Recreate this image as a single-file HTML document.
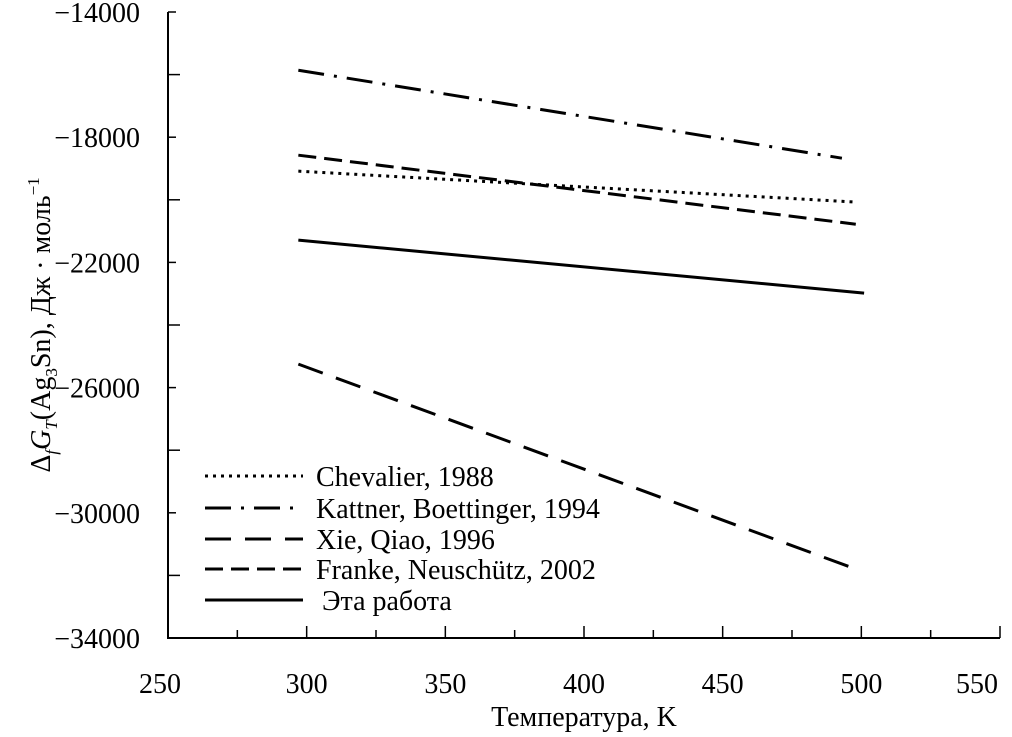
<!DOCTYPE html>
<html><head><meta charset="utf-8"><style>
body{margin:0;background:#fff}
svg text{font-family:"Liberation Serif","Times New Roman",serif;fill:#000}
</style></head><body>
<svg width="1012" height="732" font-family="Liberation Serif, serif">
<g id="axes"></g><g id="series"></g><g id="legend"></g>
<text x="584" y="726" font-size="28" text-anchor="middle" font-family="Liberation Serif, serif">Температура, K</text>
<text transform="translate(50,325) rotate(-90)" font-size="28" text-anchor="middle" font-family="Liberation Serif, serif">Δ<tspan font-size="17" dy="7" font-style="italic">f</tspan><tspan dy="-7" font-style="italic">G</tspan><tspan font-size="17" dy="7" font-style="italic">T</tspan><tspan dy="-7">(Ag</tspan><tspan font-size="17" dy="7">3</tspan><tspan dy="-7">Sn), Дж · моль</tspan><tspan font-size="17" dy="-11">−1</tspan></text>
</svg>
<script>
const xTicks=[250,300,350,400,450,500,550];
const yTicks=[-14000,-18000,-22000,-26000,-30000,-34000];
const seriesNames=["Chevalier, 1988","Kattner, Boettinger, 1994","Xie, Qiao, 1996","Franke, Neuschütz, 2002","Эта работа"];
const seriesX0=[297,297,297,297,297];
const seriesX1=[498.5,493,499,498,501];
const seriesY0=[-19085,-15860,-25250,-18575,-21290];
const seriesY1=[-20075,-18670,-31830,-20780,-22980];
const dashes=["3,5","26,10,3,10","26,14","18,8",""];
const ns="http://www.w3.org/2000/svg";
const L=168,R=1000,T=12,B=638;
const sx=v=>L+(v-250)/300*(R-L);
const sy=v=>T+(v+14000)/(-20000)*(B-T);
const FF="Liberation Serif, serif";
function mk(t,a,p){const e=document.createElementNS(ns,t);for(const k in a)e.setAttribute(k,a[k]);p.appendChild(e);return e;}
const ax=document.getElementById('axes');
let e=mk('path',{d:`M${L},${T}V${B}H${R}`,fill:'none',stroke:'#000','stroke-width':2},ax);


for(let v=250;v<=550;v+=25){e=mk('line',{x1:sx(v),x2:sx(v),y1:B,y2:B-(v%50?8:12),stroke:'#000','stroke-width':1.5},ax);

}
for(let v=-14000;v>=-34000;v-=2000){e=mk('line',{x1:L,x2:L+(v%4000?8:12),y1:sy(v),y2:sy(v),stroke:'#000','stroke-width':1.5},ax);

}
xTicks.forEach((v,i)=>{e=mk('text',{x:sx(v)-(i==0?8:0),y:B+55,'font-size':28,'text-anchor':i==xTicks.length-1?'end':'middle','font-family':FF},ax);e.textContent=v;
if(i==xTicks.length-1)e.setAttribute('x',R-2);

});
yTicks.forEach(v=>{e=mk('text',{x:L-28,y:sy(v)+10,'font-size':28,'text-anchor':'end','font-family':FF},ax);e.textContent='−'+Math.abs(v);

});
const sg=document.getElementById('series'),lg=document.getElementById('legend');
const ly=[476,508,539,569,600];
seriesNames.forEach((n,i)=>{
 e=mk('line',{x1:sx(seriesX0[i]),y1:sy(seriesY0[i]),x2:sx(seriesX1[i]),y2:sy(seriesY1[i]),stroke:'#000','stroke-width':3,'stroke-dasharray':dashes[i]},sg);
 
 
 e=mk('line',{x1:205,x2:303,y1:ly[i],y2:ly[i],stroke:'#000','stroke-width':3,'stroke-dasharray':dashes[i]},lg);
 
 
 e=mk('text',{x:i==4?322:316,y:ly[i]+10,'font-size':28,'font-family':FF},lg);e.textContent=n;
 
 
});
</script>
</body></html>
